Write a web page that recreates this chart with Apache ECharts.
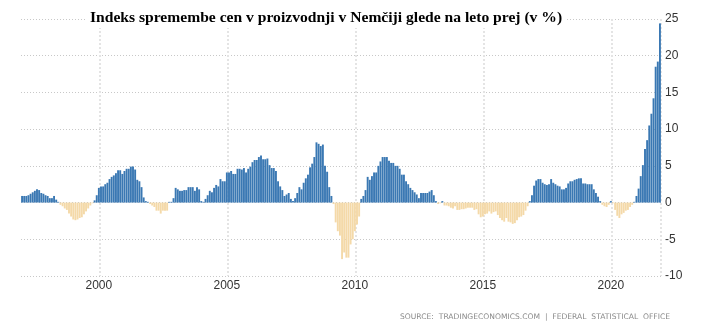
<!DOCTYPE html>
<html><head><meta charset="utf-8">
<script src="https://cdn.jsdelivr.net/npm/echarts@6/dist/echarts.min.js"></script>
<style>html,body{margin:0;padding:0;background:#fff}#c{width:715px;height:333px}</style>
</head><body><div id="c"></div>
<script>
const startYear = 1997;
const endYear = 2021;
const yearLabels = ['2000', '2005', '2010', '2015', '2020'];
const titleText = 'Indeks spremembe cen v proizvodnji v Nemčiji glede na leto prej (v %)';
const sourceText = 'SOURCE:  TRADINGECONOMICS.COM  |  FEDERAL  STATISTICAL  OFFICE';
// monthly year-over-year change, Jan 1997 .. Dec 2021
const ppiYoY = [
  0.9, 0.9, 0.9, 1.0, 1.2, 1.4, 1.6, 1.8, 1.7, 1.3, 1.2, 1.0,
  0.9, 0.6, 0.6, 0.9, 0.4, 0.1, -0.3, -0.5, -0.8, -1.0, -1.5, -1.9,
  -2.3, -2.4, -2.3, -2.1, -2.0, -1.6, -1.2, -0.8, -0.4, -0.1, 0.3, 1.0,
  2.0, 2.2, 2.2, 2.5, 2.7, 3.2, 3.5, 3.7, 4.0, 4.4, 4.4, 3.9,
  4.3, 4.6, 4.6, 4.9, 4.9, 4.5, 3.1, 2.9, 2.1, 0.7, 0.2, 0.1,
  -0.2, -0.4, -0.6, -1.1, -1.1, -1.5, -1.1, -1.1, -1.1, 0.1, 0.1, 0.6,
  2.0, 1.8, 1.6, 1.6, 1.7, 1.7, 2.1, 2.1, 2.1, 1.6, 2.1, 1.8,
  0.2, 0.1, 0.5, 1.0, 1.6, 1.4, 2.0, 2.4, 2.2, 3.2, 2.9, 2.9,
  4.1, 4.1, 4.3, 3.9, 3.9, 4.6, 4.6, 4.5, 4.7, 4.1, 4.6, 4.9,
  5.5, 5.8, 5.8, 6.2, 6.4, 5.9, 5.9, 6.0, 5.1, 4.7, 4.7, 4.3,
  2.9, 2.2, 1.7, 0.9, 1.1, 1.3, 0.5, 0.2, 0.6, 1.3, 2.1, 1.8,
  2.7, 3.3, 3.8, 4.8, 5.3, 6.2, 8.2, 8.0, 7.7, 7.9, 5.0, 4.2,
  2.1, 0.9, -0.2, -2.7, -3.9, -4.5, -7.7, -6.8, -7.5, -7.5, -5.7, -5.0,
  -3.9, -3.0, -1.9, 0.5, 0.9, 1.7, 3.5, 3.1, 3.6, 4.1, 4.1, 5.0,
  5.6, 6.2, 6.2, 6.2, 5.7, 5.4, 5.4, 5.0, 5.0, 4.6, 3.8, 3.8,
  2.9, 2.5, 2.0, 1.7, 1.4, 1.1, 0.6, 1.3, 1.3, 1.3, 1.3, 1.5,
  1.7, 1.0, 0.2, -0.2, -0.1, 0.2, -0.4, -0.4, -0.5, -0.7, -0.8, -0.5,
  -1.0, -1.0, -0.9, -0.9, -0.8, -0.7, -0.7, -0.7, -1.0, -0.9, -1.6, -2.0,
  -1.9, -1.6, -1.5, -1.2, -1.5, -1.3, -1.2, -1.7, -2.1, -2.4, -2.6, -2.1,
  -2.6, -2.7, -2.9, -2.8, -2.4, -2.0, -1.9, -1.7, -1.1, -0.5, 0.2, 1.0,
  2.3, 3.0, 3.2, 3.2, 2.7, 2.5, 2.4, 2.5, 3.2, 2.7, 2.5, 2.3,
  2.2, 1.8, 1.8, 2.0, 2.6, 2.9, 2.9, 3.1, 3.2, 3.3, 3.3, 2.6,
  2.6, 2.5, 2.5, 2.5, 1.8, 1.3, 0.8, 0.2, -0.3, -0.5, -0.6, -0.3,
  0.2, -0.1, -1.0, -1.8, -2.1, -1.6, -1.4, -1.1, -1.0, -0.6, -0.3, 0.1,
  0.9, 1.9, 3.6, 5.1, 7.3, 8.5, 10.5, 12.1, 14.2, 18.5, 19.2, 24.4
];

const months = [];
for (let y = startYear; y <= endYear; y++) {
  for (let m = 1; m <= 12; m++) months.push(y + '-' + String(m).padStart(2, '0'));
}

const chart = echarts.init(document.getElementById('c'), null, { renderer: 'canvas' });
chart.setOption({
  animation: false,
  backgroundColor: '#fff',
  grid: { left: 21, right: 54, top: 19, bottom: 57 },
  xAxis: {
    type: 'category',
    data: months,
    boundaryGap: true,
    axisLine: { show: false },
    axisTick: { show: false },
    axisLabel: {
      interval: (i, v) => v.endsWith('-01') && yearLabels.includes(v.slice(0, 4)),
      formatter: v => v.slice(0, 4),
      color: '#333', fontSize: 12, margin: 4, fontFamily: 'Liberation Sans'
    },
    splitLine: {
      show: true,
      interval: (i, v) => v.endsWith('-02') && yearLabels.includes(v.slice(0, 4)),
      lineStyle: { color: '#e4e4e4', width: 2, type: [2, 2] }
    }
  },
  yAxis: {
    type: 'value',
    position: 'right',
    min: -10, max: 25, interval: 5,
    axisLine: { show: false },
    axisTick: { show: false },
    axisLabel: { color: '#333', fontSize: 12, margin: 4, fontFamily: 'Liberation Sans' },
    splitLine: { lineStyle: { color: '#c8c8c8', type: [1, 2], width: 1 } }
  },
  series: [{
    type: 'bar',
    data: ppiYoY,
    barCategoryGap: '10%',
    itemStyle: { color: p => (p.value >= 0 ? '#3a78b3' : '#f4d9a8') }
  }],
  title: {
    text: titleText,
    left: 86, top: 8,
    padding: [2, 4],
    backgroundColor: '#fff',
    textStyle: { fontFamily: 'Liberation Serif', fontWeight: 'bold', fontSize: 15.6, color: '#000' }
  },
  graphic: [{
    type: 'text',
    right: 45, top: 313,
    style: { text: sourceText, fill: '#8a8a8a', font: '7.6px "DejaVu Sans"' }
  }]
});
</script>
</body></html>
